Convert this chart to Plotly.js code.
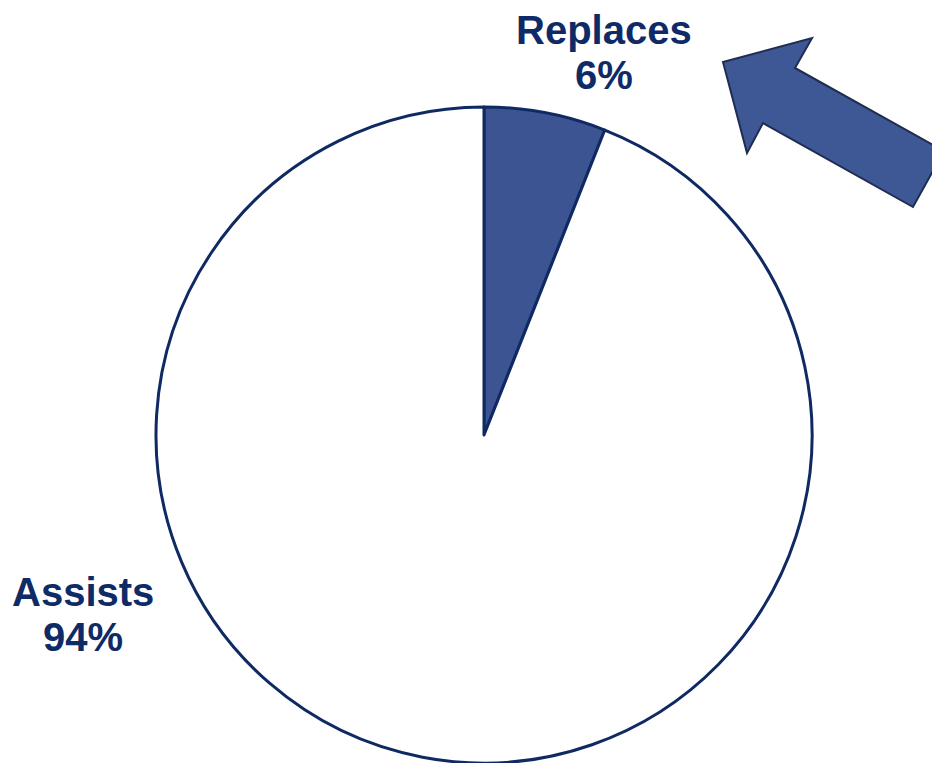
<!DOCTYPE html>
<html>
<head>
<meta charset="utf-8">
<script src="https://cdn.plot.ly/plotly-3.0.1.min.js"></script>
<style>html,body{margin:0;padding:0;background:#fff;}#chart{width:932px;height:763px;}</style>
</head>
<body>
<div id="chart"></div>
<script>
var categories = ['Replaces', 'Assists'];
var shares = [6, 94];
var sliceColors = ['#3C5592', '#FFFFFF'];

var W = 932, H = 763;
function py(p) { return 1 - p / H; }
function px(p) { return p / W; }

var labelFont = {family: 'Liberation Sans, Arial, sans-serif', size: 40, color: '#0E2B67'};
var annPos = [
  {x: 604, y1: 30, y2: 75},
  {x: 83, y1: 592, y2: 637}
];
var annotations = [];
categories.forEach(function (c, i) {
  annotations.push({xref: 'paper', yref: 'paper', x: px(annPos[i].x), y: py(annPos[i].y1),
    xanchor: 'center', yanchor: 'middle', showarrow: false, text: '<b>' + c + '</b>', font: labelFont});
  annotations.push({xref: 'paper', yref: 'paper', x: px(annPos[i].x), y: py(annPos[i].y2),
    xanchor: 'center', yanchor: 'middle', showarrow: false, text: '<b>' + shares[i] + '%</b>', font: labelFont});
});

var arrowPts = [[723, 62], [812, 38], [795, 68], [944, 151], [913, 207], [763, 123], [747, 153]];
var path = arrowPts.map(function (p, i) {
  return (i === 0 ? 'M' : 'L') + px(p[0]).toFixed(5) + ',' + py(p[1]).toFixed(5);
}).join(' ') + ' Z';

var data = [{
  type: 'pie',
  labels: categories,
  values: shares,
  sort: false,
  direction: 'clockwise',
  rotation: 0,
  textinfo: 'none',
  hoverinfo: 'label+percent',
  marker: {colors: sliceColors, line: {color: '#0F2A63', width: 3}},
  domain: {x: [156 / W, 812 / W], y: [0, 656 / H]},
  showlegend: false
}];

var layout = {
  width: W, height: H,
  margin: {l: 0, r: 0, t: 0, b: 0},
  paper_bgcolor: '#FFFFFF',
  plot_bgcolor: '#FFFFFF',
  showlegend: false,
  annotations: annotations,
  shapes: [{type: 'path', xref: 'paper', yref: 'paper', path: path,
    fillcolor: '#3E5795', line: {color: '#1F2D52', width: 2}}]
};

Plotly.newPlot('chart', data, layout, {displayModeBar: false, staticPlot: true});
</script>
</body>
</html>
